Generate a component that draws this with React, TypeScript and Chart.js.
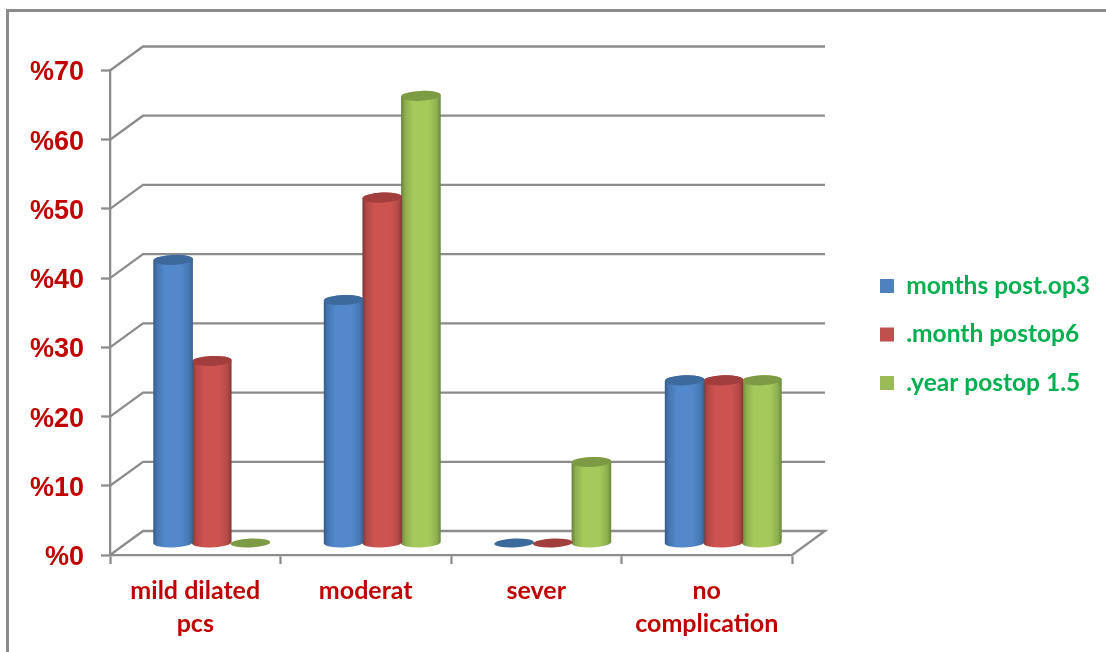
import React, { useEffect, useRef } from "react";
import { Chart, registerables } from "chart.js";

Chart.register(...registerables);

const categories: (string | string[])[] = [["mild dilated", "pcs"], "moderat", "sever", ["no", "complication"]];
const seriesNames = ["months post.op3", ".month postop6", ".year postop 1.5"];
const months3 = [40.9, 35.1, 0, 23.5];
const months6 = [26.3, 49.9, 0, 23.5];
const year15 = [0, 64.6, 11.7, 23.5];
const swatches = ["#4F81BD", "#C0504D", "#9BBB59"];
const shades = [
  { edgeL: "#345a8b", soft: "#4676b2", mid: "#5189cb", edgeR: "#38608f", softR: "#4678b3", top: "#3d6a9c" },
  { edgeL: "#7f3433", soft: "#b04846", mid: "#cd5350", edgeR: "#863735", softR: "#b34a47", top: "#a23f3d" },
  { edgeL: "#66803a", soft: "#8dad4e", mid: "#a6c95c", edgeR: "#6a853b", softR: "#8fb050", top: "#7d9a45" },
];

const GRID = "#8c8c8c";
const RED = "#C00000";
const GREEN = "#00B050";
const DEPTH_X = 33;
const DEPTH_Y = 24;
const TILT = -0.04;

const depthPlugin = {
  id: "depth3d",
  afterLayout(chart: any) {
    const legend = chart.legend;
    if (!legend) return;
    const pad = legend.options.labels.padding;
    legend.left = 880 - pad;
    legend.right = legend.left + legend.width;
    legend.top = 273.75 - pad;
    legend.bottom = legend.top + legend.height;
  },
  beforeDatasetsDraw(chart: any) {
    const { ctx, scales, chartArea } = chart;
    const y = scales.y;
    ctx.save();
    ctx.strokeStyle = GRID;
    ctx.lineWidth = 2.3;
    ctx.lineJoin = "miter";
    y.ticks.forEach((_: any, i: number) => {
      const py = y.getPixelForTick(i);
      ctx.beginPath();
      ctx.moveTo(chartArea.left, py);
      ctx.lineTo(chartArea.left + DEPTH_X, py - DEPTH_Y);
      ctx.lineTo(chartArea.right + DEPTH_X, py - DEPTH_Y);
      if (i === 0) ctx.lineTo(chartArea.right, py);
      ctx.stroke();
    });
    ctx.restore();
  },
  beforeDatasetDraw(chart: any, args: any) {
    const { ctx } = chart;
    const shade = shades[args.index];
    const meta = args.meta;
    ctx.save();
    meta.data.forEach((bar: any, i: number) => {
      const value = chart.data.datasets[args.index].data[i];
      const rx = bar.width / 2 + 0.5;
      const cx = bar.x + DEPTH_X / 2;
      const yBase = bar.base - DEPTH_Y / 2;
      const yTop = bar.y - DEPTH_Y / 2;
      const ry = 5;
      if (value > 0) {
        const g = ctx.createLinearGradient(cx - rx, 0, cx + rx, 0);
        g.addColorStop(0, shade.edgeL);
        g.addColorStop(0.1, shade.soft);
        g.addColorStop(0.3, shade.mid);
        g.addColorStop(0.7, shade.mid);
        g.addColorStop(0.9, shade.softR);
        g.addColorStop(1, shade.edgeR);
        ctx.fillStyle = g;
        ctx.beginPath();
        ctx.ellipse(cx, yTop, rx, ry, TILT, Math.PI, 0, false);
        ctx.ellipse(cx, yBase, rx, ry, TILT, 0, Math.PI, false);
        ctx.closePath();
        ctx.fill();
      }
      ctx.fillStyle = shade.top;
      ctx.beginPath();
      ctx.ellipse(cx, yTop, rx, value > 0 ? ry : 4.5, TILT, 0, Math.PI * 2);
      ctx.fill();
    });
    ctx.restore();
    return false;
  },
};

export default function App() {
  const ref = useRef<HTMLCanvasElement>(null);
  useEffect(() => {
    if (!ref.current) return;
    const series = [months3, months6, year15];
    const chart = new Chart(ref.current, {
      type: "bar",
      data: {
        labels: categories as any,
        datasets: series.map((data, i) => ({
          label: seriesNames[i],
          data,
          backgroundColor: swatches[i],
          borderWidth: 0,
          categoryPercentage: 0.68,
          barPercentage: 1,
        })),
      },
      options: {
        responsive: false,
        animation: false,
        devicePixelRatio: 1,
        layout: { padding: { left: 0, top: 70.5, right: 314, bottom: 0 } },
        plugins: {
          title: { display: false },
          tooltip: { enabled: false },
          legend: {
            display: true,
            position: "chartArea" as any,
            align: "start",
            labels: {
              boxWidth: 14,
              boxHeight: 14,
              padding: 24,
              color: GREEN,
              font: { family: "Lato", weight: "bold", size: 24.5 },
            },
          },
        },
        scales: {
          x: {
            afterFit(scale: any) {
              scale.height = 97;
            },
            border: { display: true, color: GRID, width: 2.3 },
            grid: { display: true, drawOnChartArea: false, drawTicks: true, tickLength: 9, tickColor: GRID, tickWidth: 2.3 },
            ticks: {
              color: RED,
              maxRotation: 0,
              autoSkip: false,
              padding: 10,
              font: { family: "Lato", weight: "bold", size: 25, lineHeight: 1.32 },
            },
          },
          y: {
            min: 0,
            max: 70,
            afterFit(scale: any) {
              scale.width = 110;
            },
            border: { display: true, color: GRID, width: 2.3 },
            grid: { display: true, drawOnChartArea: false, drawTicks: true, tickLength: 9, tickColor: GRID, tickWidth: 2.3 },
            ticks: {
              stepSize: 10,
              color: RED,
              padding: 17,
              labelOffset: 2.5,
              callback: (v: any) => "%" + v,
              font: { family: "Liberation Sans", weight: "bold", size: 27 },
            },
          },
        },
      },
      plugins: [depthPlugin],
    });
    return () => chart.destroy();
  }, []);

  return (
    <div style={{ position: "fixed", left: 0, top: 0, width: 1106, height: 652, background: "#fff", overflow: "hidden" }}>
      <div
        style={{
          position: "absolute",
          left: 6,
          top: 9,
          right: -10,
          bottom: -10,
          borderLeft: "3px solid #8c8c8c",
          borderTop: "3px solid #8c8c8c",
        }}
      />
      <canvas ref={ref} width={1106} height={652} style={{ position: "absolute", left: 0, top: 0 }} />
    </div>
  );
}
